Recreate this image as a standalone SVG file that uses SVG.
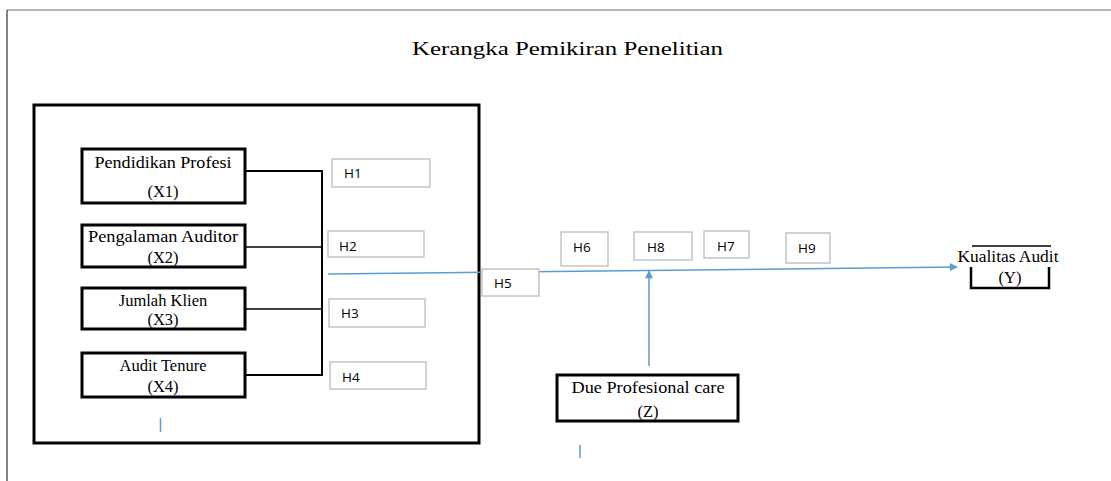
<svg xmlns="http://www.w3.org/2000/svg" width="1111" height="481" viewBox="0 0 1111 481">
<style>
.serif{font-family:"Liberation Serif","Times New Roman",serif;fill:#000}
.node{font-size:16.5px;text-anchor:middle}
.hbox{fill:#fff;stroke:#c4c4c4;stroke-width:1.5}
.htxt{font-family:"Open Sans","Noto Sans",sans-serif;font-size:13.5px;fill:#000}
.nbox{fill:#fff;stroke:#000;stroke-width:3}
.blue{stroke:#5b9bd5;stroke-width:1.5;fill:none}
</style>
<defs>
<marker id="arr" viewBox="0 0 10 10" refX="9" refY="5" markerWidth="10" markerHeight="8" markerUnits="userSpaceOnUse" orient="auto">
<path d="M0,0 L10,5 L0,10 z" fill="#5b9bd5"/>
</marker>
</defs>
<rect width="1111" height="481" fill="#fff"/>
<g id="frame">
<line x1="7" y1="10" x2="1111" y2="10" stroke="#9a9a9a" stroke-width="1.5"/>
<line x1="7" y1="10" x2="7" y2="481" stroke="#333" stroke-width="1.2"/>
<text class="serif" x="412" y="55" font-size="19" textLength="311" lengthAdjust="spacingAndGlyphs">Kerangka Pemikiran Penelitian</text>
<rect x="34" y="105" width="445" height="338" fill="none" stroke="#000" stroke-width="3"/>
</g>
<g id="connectors">
<polyline points="245,171 322,171 322,375 245,375" fill="none" stroke="#000" stroke-width="2"/>
<line x1="245" y1="247" x2="322" y2="247" stroke="#000" stroke-width="1.5"/>
<line x1="245" y1="309" x2="322" y2="309" stroke="#000" stroke-width="1.5"/>
<line class="blue" x1="328" y1="274" x2="957" y2="267" marker-end="url(#arr)"/>
<line class="blue" x1="649" y1="366" x2="649" y2="271" marker-end="url(#arr)"/>
<line class="blue" x1="160.5" y1="418" x2="160.5" y2="432"/>
<line class="blue" x1="580" y1="445" x2="580" y2="458"/>
</g>
<g id="X1"><rect class="nbox" x="82" y="149" width="163" height="54"/><text class="serif node" x="163" y="168" textLength="137" lengthAdjust="spacingAndGlyphs">Pendidikan Profesi</text><text class="serif node" x="163" y="197">(X1)</text></g>
<g id="X2"><rect class="nbox" x="82" y="225" width="163" height="42"/><text class="serif node" x="163" y="242" textLength="150" lengthAdjust="spacingAndGlyphs">Pengalaman Auditor</text><text class="serif node" x="163" y="263">(X2)</text></g>
<g id="X3"><rect class="nbox" x="82" y="288" width="163" height="41"/><text class="serif node" x="163" y="306">Jumlah Klien</text><text class="serif node" x="163" y="325">(X3)</text></g>
<g id="X4"><rect class="nbox" x="82" y="353" width="163" height="44"/><text class="serif node" x="163" y="371">Audit Tenure</text><text class="serif node" x="163" y="392">(X4)</text></g>
<g id="H1"><rect class="hbox" x="332" y="159" width="98" height="28"/><text class="htxt" x="344" y="178">H1</text></g>
<g id="H2"><rect class="hbox" x="328" y="231" width="96" height="26"/><text class="htxt" x="339" y="251">H2</text></g>
<g id="H3"><rect class="hbox" x="329" y="299" width="96" height="28"/><text class="htxt" x="341" y="318">H3</text></g>
<g id="H4"><rect class="hbox" x="330" y="362" width="96" height="27"/><text class="htxt" x="342" y="382">H4</text></g>
<g id="H5"><rect class="hbox" x="482" y="269" width="57" height="27"/><text class="htxt" x="494" y="288">H5</text></g>
<g id="H6"><rect class="hbox" x="561" y="232" width="47" height="34"/><text class="htxt" x="573" y="252">H6</text></g>
<g id="H8"><rect class="hbox" x="634" y="232" width="58" height="28"/><text class="htxt" x="647" y="252">H8</text></g>
<g id="H7"><rect class="hbox" x="704" y="231" width="45" height="27"/><text class="htxt" x="717" y="251">H7</text></g>
<g id="H9"><rect class="hbox" x="786" y="233" width="44" height="30"/><text class="htxt" x="798" y="253">H9</text></g>
<g id="Z"><rect class="nbox" x="557" y="375" width="181" height="46"/><text class="serif node" x="648" y="393" textLength="153" lengthAdjust="spacingAndGlyphs">Due Profesional care</text><text class="serif node" x="648" y="417">(Z)</text></g>
<g id="Y">
<line x1="972" y1="246" x2="1051" y2="246" stroke="#000" stroke-width="1.5"/>
<polyline points="971,267 971,288 1049,288 1049,267" fill="none" stroke="#000" stroke-width="2.5"/>
<text class="serif node" x="1008" y="262" textLength="101" lengthAdjust="spacingAndGlyphs">Kualitas Audit</text>
<text class="serif node" x="1010" y="283">(Y)</text>
</g>
</svg>
